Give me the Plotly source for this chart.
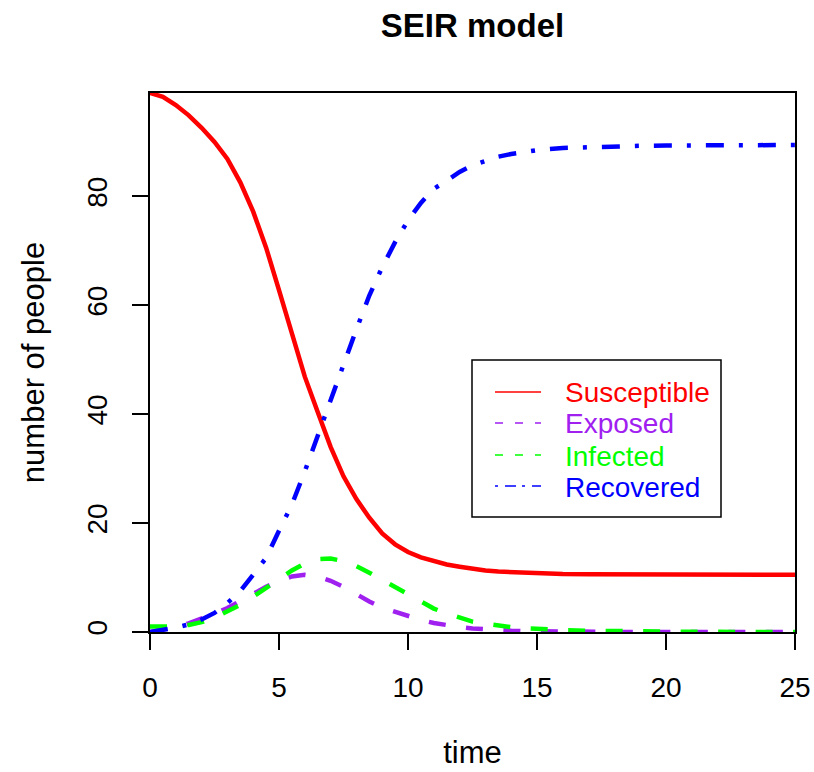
import plotly.graph_objects as go

# ---- data ----
time = [0, 0.5, 1, 1.5, 2, 2.5, 3, 3.5, 4, 4.5, 5, 5.5, 6, 6.5, 7, 7.5, 8, 8.5,
        9, 9.5, 10, 10.5, 11, 11.5, 12, 12.5, 13, 13.5, 14, 14.5, 15,
        16, 17, 18, 19, 20, 21, 22, 23, 24, 25]

susceptible = [99.0, 98.3, 96.8, 94.9, 92.6, 90.0, 86.9, 82.6, 77.2, 70.6, 62.8,
               54.6, 46.9, 40.4, 34.0, 28.6, 24.4, 21.0, 18.1, 16.1, 14.7, 13.7,
               12.95, 12.4, 12.0, 11.6, 11.3, 11.1, 11.0, 10.85, 10.75,
               10.65, 10.6, 10.57, 10.55, 10.54, 10.53, 10.52, 10.52, 10.51, 10.51]

exposed = [0.0, 0.4, 0.9, 1.6, 2.4, 3.4, 4.4, 5.6, 7.0, 8.3, 9.4, 10.2, 10.5,
           10.2, 9.4, 8.3, 6.9, 5.6, 4.5, 3.7, 2.9, 2.2, 1.65, 1.2, 0.9, 0.65,
           0.45, 0.33, 0.24, 0.17, 0.12,
           0.06, 0.03, 0.015, 0.008, 0.004, 0.002, 0.001, 0.0, 0.0, 0.0]

infected = [1.0, 0.9, 1.0, 1.3, 1.8, 2.6, 3.8, 5.0, 6.5, 8.0, 9.7, 11.3, 12.6,
            13.4, 13.5, 13.0, 12.1, 10.9, 9.6, 8.2, 6.8, 5.5, 4.3, 3.4, 2.6, 1.9,
            1.5, 1.15, 0.9, 0.7, 0.55,
            0.35, 0.22, 0.14, 0.09, 0.06, 0.04, 0.025, 0.016, 0.01, 0.006]

recovered = [0.0, 0.3, 0.8, 1.4, 2.3, 3.5, 5.3, 7.5, 10.4, 13.6, 18.6, 23.4,
             29.5, 36.1, 42.8, 49.3, 55.6, 61.8, 67.0, 71.6, 75.6, 78.8, 81.4,
             82.9, 84.5, 85.7, 86.6, 87.3, 87.8, 88.2, 88.5,
             88.9, 89.1, 89.25, 89.3, 89.35, 89.38, 89.4, 89.42, 89.44, 89.45]

names = ["Susceptible", "Exposed", "Infected", "Recovered"]
colors = ["#FF0000", "#A020F0", "#00FF00", "#0000FF"]
series = [susceptible, exposed, infected, recovered]
x_ticks = [0, 5, 10, 15, 20, 25]
y_ticks = [0, 20, 40, 60, 80]

# ---- styles ----
main_dash = ["solid", "17px,20.5px", "17px,20.5px", "18px,15px,4px,15px"]
legend_dash = ["solid", "8px,12px", "8px,12px", "3px,7px,11px,6px"]
FONT = "Liberation Sans, Arial, sans-serif"

fig = go.Figure()
for name, col, vals, dsh in zip(names, colors, series, main_dash):
    fig.add_trace(go.Scatter(
        x=time, y=vals, mode="lines", name=name,
        line=dict(color=col, width=4.5, dash=dsh, shape="linear"),
        showlegend=False,
    ))

W, H = 814, 772
L, R, T, B = 150, 19, 93, 140
pw, ph = W - L - R, H - T - B


def px_x(px):
    return (px - L) / pw


def px_y(py):
    return (H - B - py) / ph


# ---- custom legend (R style) ----
shapes = [dict(type="rect", xref="paper", yref="paper",
               x0=px_x(472), x1=px_x(721), y0=px_y(517), y1=px_y(360),
               line=dict(color="black", width=1.5), fillcolor="white", layer="above")]
annotations = []
rows = [392, 423, 455, 486]
for name, col, dsh, ry in zip(names, colors, legend_dash, rows):
    shapes.append(dict(type="line", xref="paper", yref="paper",
                       x0=px_x(495), x1=px_x(541), y0=px_y(ry), y1=px_y(ry),
                       line=dict(color=col, width=1.7, dash=dsh), layer="above"))
    annotations.append(dict(xref="paper", yref="paper", x=px_x(563), y=px_y(ry + 1),
                            text=name, showarrow=False, xanchor="left", yanchor="middle",
                            font=dict(family=FONT, size=28, color=col)))

fig.update_layout(
    width=W, height=H,
    margin=dict(l=L, r=R, t=T, b=B),
    paper_bgcolor="white", plot_bgcolor="white",
    font=dict(family=FONT, size=28, color="black"),
    title=dict(text="<b>SEIR model</b>", x=px_x(472.5), xref="paper",
               xanchor="center", y=1 - 25 / H, yanchor="middle", yref="container",
               font=dict(family=FONT, size=33, color="black")),
    shapes=shapes,
    annotations=annotations,
    showlegend=False,
)

fig.update_xaxes(
    range=[0, 25], tickmode="array", tickvals=x_ticks, ticktext=[str(v) for v in x_ticks],
    showgrid=False, zeroline=False, showline=True, mirror=True,
    linecolor="black", linewidth=2, ticks="outside", ticklen=16, tickwidth=2,
    tickcolor="black", tickfont=dict(family=FONT, size=28),
    ticklabelstandoff=13,
    title=dict(text="time", font=dict(family=FONT, size=31), standoff=40),
    automargin=False,
)
fig.update_yaxes(
    range=[0, 99], tickmode="array", tickvals=y_ticks, ticktext=[str(v) for v in y_ticks],
    showgrid=False, zeroline=False, showline=True, mirror=True,
    linecolor="black", linewidth=2, ticks="outside", ticklen=16, tickwidth=2,
    tickcolor="black", tickangle=-90, tickfont=dict(family=FONT, size=28),
    ticklabelstandoff=14,
    title=dict(text="number of people", font=dict(family=FONT, size=31), standoff=28),
    automargin=False,
)

fig.write_html("out.html")
